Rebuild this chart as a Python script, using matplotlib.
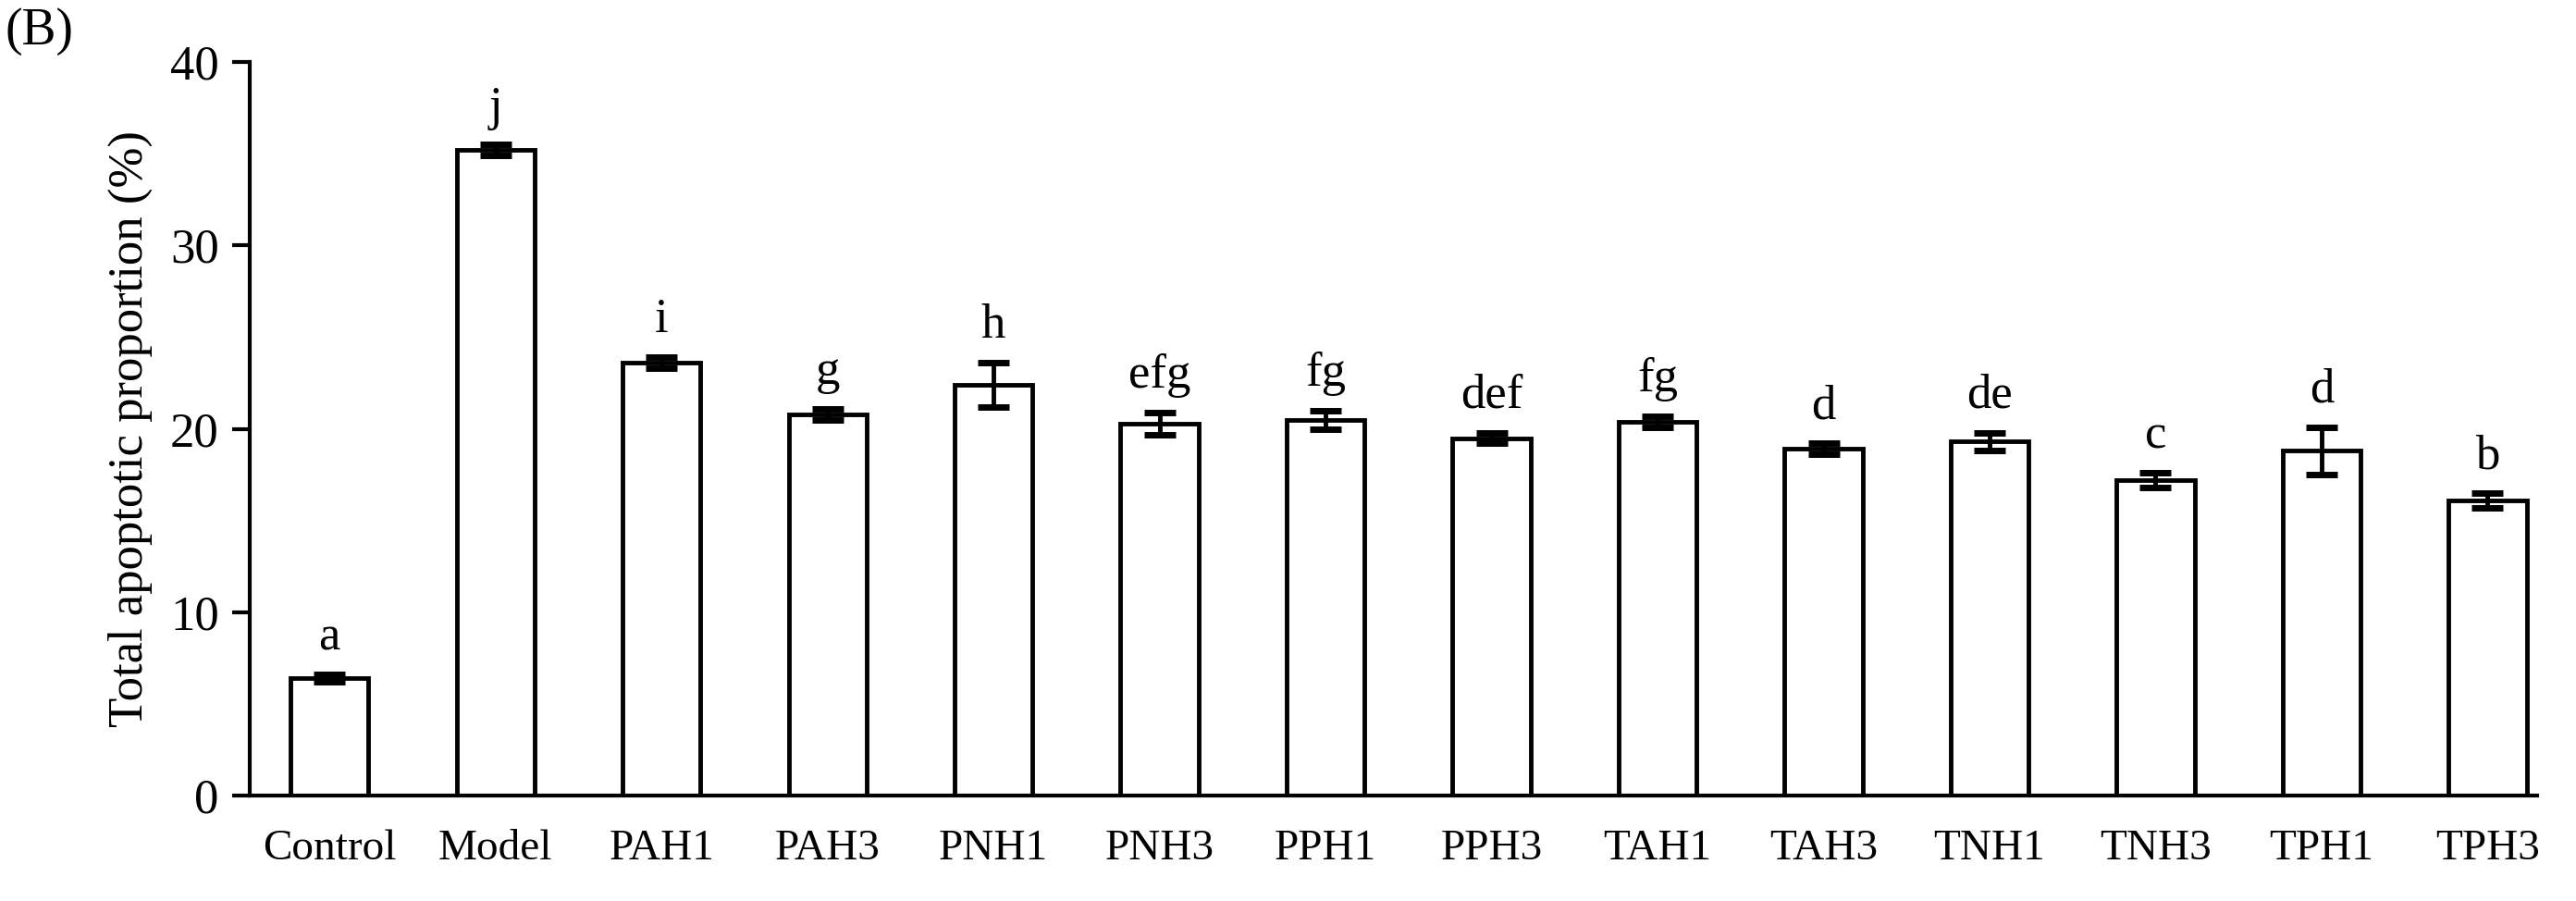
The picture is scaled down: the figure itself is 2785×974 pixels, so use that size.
import matplotlib
matplotlib.use("Agg")
import matplotlib.pyplot as plt

groups = ["Control","Model","PAH1","PAH3","PNH1","PNH3","PPH1","PPH3","TAH1","TAH3","TNH1","TNH3","TPH1","TPH3"]
values = [6.4,35.2,23.6,20.8,22.4,20.3,20.5,19.5,20.4,18.9,19.3,17.2,18.8,16.1]
errors = [0.2,0.3,0.3,0.3,1.2,0.6,0.5,0.3,0.3,0.3,0.5,0.4,1.3,0.4]
letters = ["a","j","i","g","h","efg","fg","def","fg","d","de","c","d","b"]

plt.rcParams['font.family'] = ['Liberation Serif']
fig = plt.figure(figsize=(27.85, 9.74), dpi=100)
ax = fig.add_axes([0.097, 0.117, 0.888, 0.814])
x = list(range(len(groups)))
ax.bar(x, values, width=0.47, color="white", edgecolor="black", linewidth=3.5)
ax.errorbar(x, values, yerr=errors, fmt="none", ecolor="black", elinewidth=3.5, capsize=12, capthick=5)
for xi, v, e, l in zip(x, values, errors, letters):
    ax.text(xi, v + e + 0.8, l, ha="center", va="bottom", fontsize=38)
ax.set_xlim(-0.48, 13.3)
ax.set_ylim(0, 40)
ax.set_yticks([0,10,20,30,40])
ax.set_xticks(x)
ax.set_xticklabels(groups)
for s in ["top","right"]:
    ax.spines[s].set_visible(False)
for s in ["left","bottom"]:
    ax.spines[s].set_linewidth(3)
ax.tick_params(axis="y", direction="out", length=14, width=3, labelsize=38, pad=10)
ax.tick_params(axis="x", length=0, labelsize=34, pad=26)
ax.set_ylabel("Total apoptotic proportion (%)", fontsize=38, labelpad=14)
fig.text(0.002, 0.965, "(B)", fontsize=40, va="center")
fig.savefig("out.png", dpi=100, facecolor="white")
